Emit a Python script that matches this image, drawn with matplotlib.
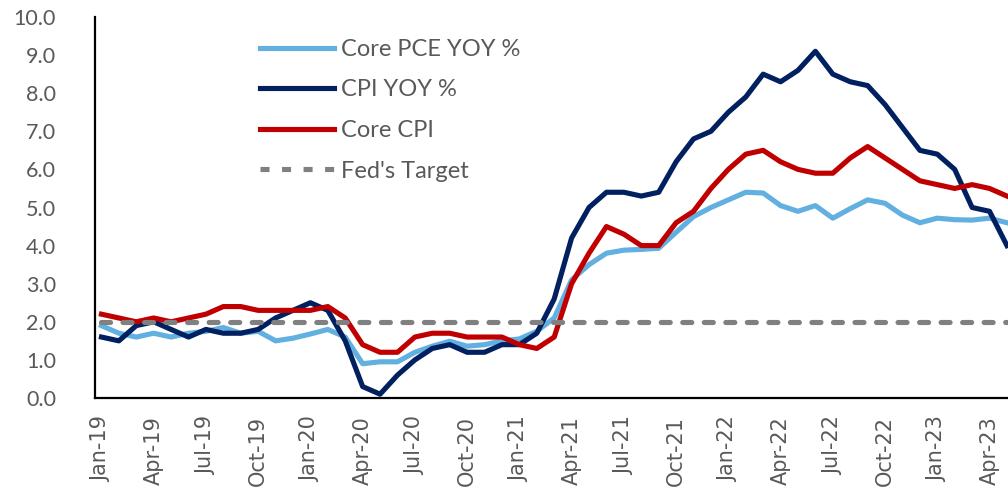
import matplotlib
matplotlib.use("Agg")
from matplotlib import pyplot as plt
import numpy as np

# monthly YoY values, Jan-19 .. May-23
core_pce = [1.9, 1.7, 1.6, 1.7, 1.6, 1.7, 1.75, 1.85, 1.7, 1.75, 1.5, 1.57,
            1.68, 1.8, 1.6, 0.9, 0.95, 0.95, 1.2, 1.36, 1.49, 1.36, 1.4, 1.5,
            1.55, 1.75, 2.1, 3.1, 3.5, 3.8, 3.88, 3.9, 3.93, 4.35, 4.76, 5.0,
            5.2, 5.4, 5.38, 5.05, 4.9, 5.05, 4.72, 4.97, 5.2, 5.11, 4.8, 4.6,
            4.72, 4.68, 4.67, 4.72, 4.6]
cpi = [1.6, 1.5, 1.9, 2.0, 1.8, 1.6, 1.8, 1.7, 1.7, 1.8, 2.1, 2.3,
       2.5, 2.3, 1.5, 0.3, 0.1, 0.6, 1.0, 1.3, 1.4, 1.2, 1.2, 1.4,
       1.4, 1.7, 2.6, 4.2, 5.0, 5.4, 5.4, 5.3, 5.4, 6.2, 6.8, 7.0,
       7.5, 7.9, 8.5, 8.3, 8.6, 9.1, 8.5, 8.3, 8.2, 7.7, 7.1, 6.5,
       6.4, 6.0, 5.0, 4.9, 4.0]
core_cpi = [2.2, 2.1, 2.0, 2.1, 2.0, 2.1, 2.2, 2.4, 2.4, 2.3, 2.3, 2.3,
            2.3, 2.4, 2.1, 1.4, 1.2, 1.2, 1.6, 1.7, 1.7, 1.6, 1.6, 1.6,
            1.4, 1.3, 1.6, 3.0, 3.8, 4.5, 4.3, 4.0, 4.0, 4.6, 4.9, 5.5,
            6.0, 6.4, 6.5, 6.2, 6.0, 5.9, 5.9, 6.3, 6.6, 6.3, 6.0, 5.7,
            5.6, 5.5, 5.6, 5.5, 5.3]
fed_target = 2.0

tick_labels = ["Jan-19", "Apr-19", "Jul-19", "Oct-19", "Jan-20", "Apr-20",
               "Jul-20", "Oct-20", "Jan-21", "Apr-21", "Jul-21", "Oct-21",
               "Jan-22", "Apr-22", "Jul-22", "Oct-22", "Jan-23", "Apr-23"]

plt.rcParams['lines.scale_dashes'] = False

x = np.arange(len(cpi))
gris = '#595959'

fig = plt.figure(figsize=(10.08, 4.90), dpi=100)
ax = fig.add_axes([95/1008, 92/490, 913/1008, 381/490])

lw = 3.7
ax.plot(x, core_pce, color='#62B0E0', lw=lw, solid_joinstyle='round', label="Core PCE YOY %")
ax.plot(x, cpi, color='#002060', lw=lw, solid_joinstyle='round', label="CPI YOY %")
ax.plot(x, core_cpi, color='#C00000', lw=lw, solid_joinstyle='round', label="Core CPI")
ax.hlines(fed_target, x[0], x[-1], color='#808080', lw=lw, linestyles=(0, (6.5, 9.0)),
          capstyle='round', label="Fed's Target")

ax.set_xlim(-0.37, 52.06)
ax.set_ylim(0, 10)

ax.set_yticks(np.arange(0, 11, 1))
ax.set_yticklabels(["{:.1f}".format(v) for v in np.arange(0, 11, 1)],
                   fontsize=15.5, color=gris, family='Lato')
ax.set_xticks(x[::3])
ax.set_xticklabels(tick_labels, rotation=90, fontsize=15, color=gris,
                   family='DejaVu Sans', va='top', ha='center')
ax.tick_params(axis='y', length=0, pad=28)
ax.tick_params(axis='x', length=0, pad=13)

for s in ['top', 'right']:
    ax.spines[s].set_visible(False)
for s in ['left', 'bottom']:
    ax.spines[s].set_linewidth(1.6)
    ax.spines[s].set_color('black')

leg = fig.legend(loc='upper left', bbox_to_anchor=(248/1008, 1 - 27/490),
                 bbox_transform=fig.transFigure, frameon=False, borderpad=0,
                 handlelength=3.15, handletextpad=0.3, labelspacing=0.83,
                 prop={'family': 'Lato', 'size': 17})
for t in leg.get_texts():
    t.set_color(gris)

fig.savefig("out.png", dpi=100)
